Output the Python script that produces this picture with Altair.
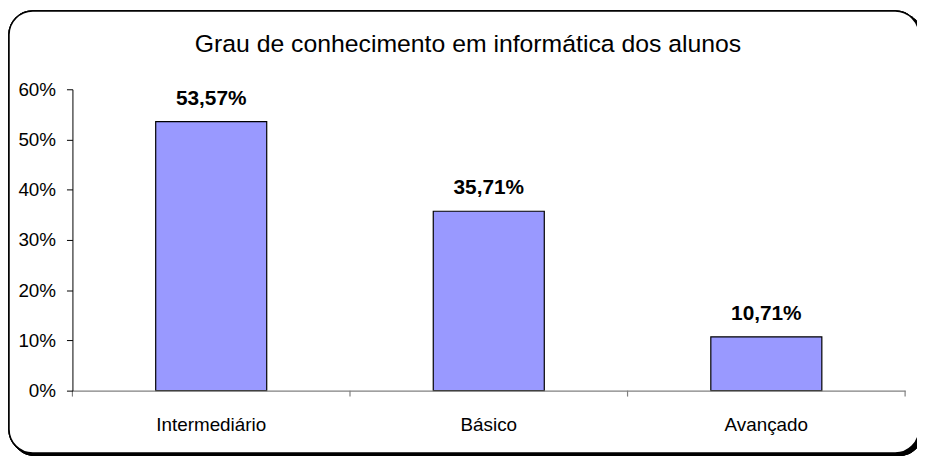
import altair as alt
import pandas as pd

categories = ["Intermediário", "Básico", "Avançado"]
values = [0.5357, 0.3571, 0.1071]
labels = ["53,57%", "35,71%", "10,71%"]
y_ticks = [0, 0.1, 0.2, 0.3, 0.4, 0.5, 0.6]

df = pd.DataFrame({"cat": categories, "val": values, "label": labels})

FONT = "Liberation Sans"
W, H = 840, 304

x_enc = alt.X("cat:N", sort=categories,
              scale=alt.Scale(paddingInner=0.6, paddingOuter=0.3),
              axis=alt.Axis(title=None, labelAngle=0, labelFont=FONT, labelFontSize=19,
                            labelColor="black", labelPadding=40, labelBaseline="alphabetic",
                            domainColor="#808080", tickColor="#808080", ticks=False,
                            domainWidth=1.2, zindex=1))
y_enc = alt.Y("val:Q", scale=alt.Scale(domain=[0, 0.6], nice=False),
              axis=alt.Axis(title=None, values=y_ticks, format=".0%", labelFont=FONT,
                            labelFontSize=19, labelColor="black", grid=False,
                            domainColor="black", tickColor="black", tickSize=6,
                            labelPadding=11, zindex=1))

base = alt.Chart(df)

# decorative frame (shadow + rounded border)
shadow = base.mark_rect(fill="black", cornerRadius=24).encode(
    x=alt.value(-62), x2=alt.value(W + 18), y=alt.value(-77), y2=alt.value(H + 66))
frame = base.mark_rect(fill="white", cornerRadius=24, stroke="black", strokeWidth=1.5).encode(
    x=alt.value(-64), x2=alt.value(W + 14), y=alt.value(-79), y2=alt.value(H + 63))

bars = base.mark_bar(color="#9999FF", stroke="black", strokeWidth=1.2).encode(x=x_enc, y=y_enc)

# category separator ticks on x axis
sep = pd.DataFrame({"p": [0, 1, 2, 3]})
sep_ticks = alt.Chart(sep).mark_rule(color="#808080", strokeWidth=1.2).encode(
    x=alt.X("p:Q", scale=alt.Scale(domain=[0, 3]), axis=None),
    y=alt.value(H), y2=alt.value(H + 6))

text = base.mark_text(font=FONT, fontSize=21, fontWeight="bold", baseline="alphabetic",
                      dy=-17, color="black").encode(
    x=alt.X("cat:N", sort=categories), y=alt.Y("val:Q"), text="label:N")

title_df = pd.DataFrame({"t": ["Grau de conhecimento em informática dos alunos"]})
title = alt.Chart(title_df).mark_text(font=FONT, fontSize=25, color="black",
                                      align="center", baseline="alphabetic").encode(
    text="t:N", x=alt.value(W / 2 - 21), y=alt.value(-38))

chart = alt.layer(shadow, frame, bars, sep_ticks, text, title).resolve_scale(x="independent").properties(
    width=W, height=H,
    autosize=alt.AutoSizeParams(type="none"),
    padding={"left": 65, "top": 80, "right": 12, "bottom": 70},
).configure_view(stroke=None).configure(background="white")

chart.save("out.html", embed_options={"renderer": "svg", "actions": False})
